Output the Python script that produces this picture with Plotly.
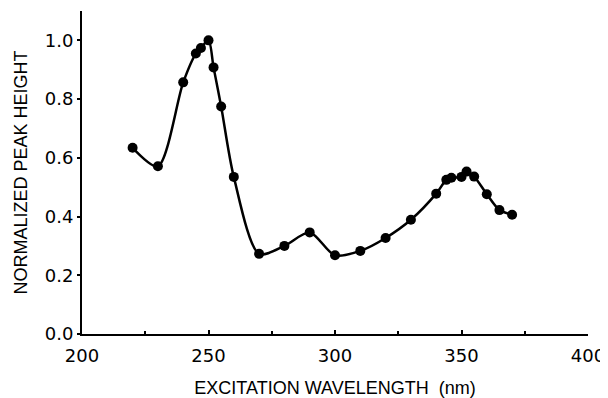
import plotly.graph_objects as go

wavelength = [220, 230, 240, 245, 247, 250, 252, 255, 260, 270, 280, 290, 300, 310,
              320, 330, 340, 344, 346, 350, 352, 355, 360, 365, 370]
peak_height = [0.634, 0.571, 0.857, 0.955, 0.974, 1.0, 0.908, 0.775, 0.535, 0.273, 0.300,
               0.346, 0.268, 0.283, 0.327, 0.389, 0.478, 0.525, 0.532, 0.535, 0.553,
               0.536, 0.476, 0.422, 0.406]

x_ticks = [200, 250, 300, 350, 400]
y_ticks = [0.0, 0.2, 0.4, 0.6, 0.8, 1.0]

title_font = "Liberation Sans, Arial, Helvetica, sans-serif"
tick_font = "DejaVu Sans, Liberation Sans, sans-serif"

fig = go.Figure()
fig.add_trace(go.Scatter(
    x=wavelength, y=peak_height, mode="lines+markers",
    line=dict(color="black", width=2.5, shape="spline", smoothing=0.8),
    marker=dict(color="black", size=10),
    showlegend=False,
))

# page body has an 8px margin, so the figure is 8px smaller than the window
fig.update_layout(
    width=600, height=390,
    margin=dict(l=74, r=20, t=3, b=64, autoexpand=False),
    paper_bgcolor="white", plot_bgcolor="white",
    font=dict(family=title_font, color="black"),
    xaxis=dict(
        range=[200, 400], tickvals=x_ticks, ticktext=[str(v) for v in x_ticks],
        showline=True, linecolor="black", linewidth=2,
        ticks="inside", ticklen=4, tickwidth=1.5, tickcolor="black",
        minor=dict(dtick=25, tick0=200, ticks="inside", ticklen=3, tickcolor="black", tickwidth=1.5),
        showgrid=False, zeroline=False, automargin=False,
        tickfont=dict(size=18, family=tick_font), ticklabelstandoff=4,
        title=dict(text="EXCITATION WAVELENGTH  (nm)", font=dict(size=18), standoff=19),
    ),
    yaxis=dict(
        range=[0, 1.1], tickvals=y_ticks, ticktext=[f"{v:.1f}" for v in y_ticks],
        showline=True, linecolor="black", linewidth=2,
        ticks="outside", ticklen=3, tickwidth=1.5, tickcolor="black",
        showgrid=False, zeroline=False, automargin=False,
        tickfont=dict(size=18, family=tick_font), ticklabelstandoff=0,
        title=dict(text="NORMALIZED PEAK HEIGHT", font=dict(size=18), standoff=12),
    ),
)

fig.write_html("out.html")
